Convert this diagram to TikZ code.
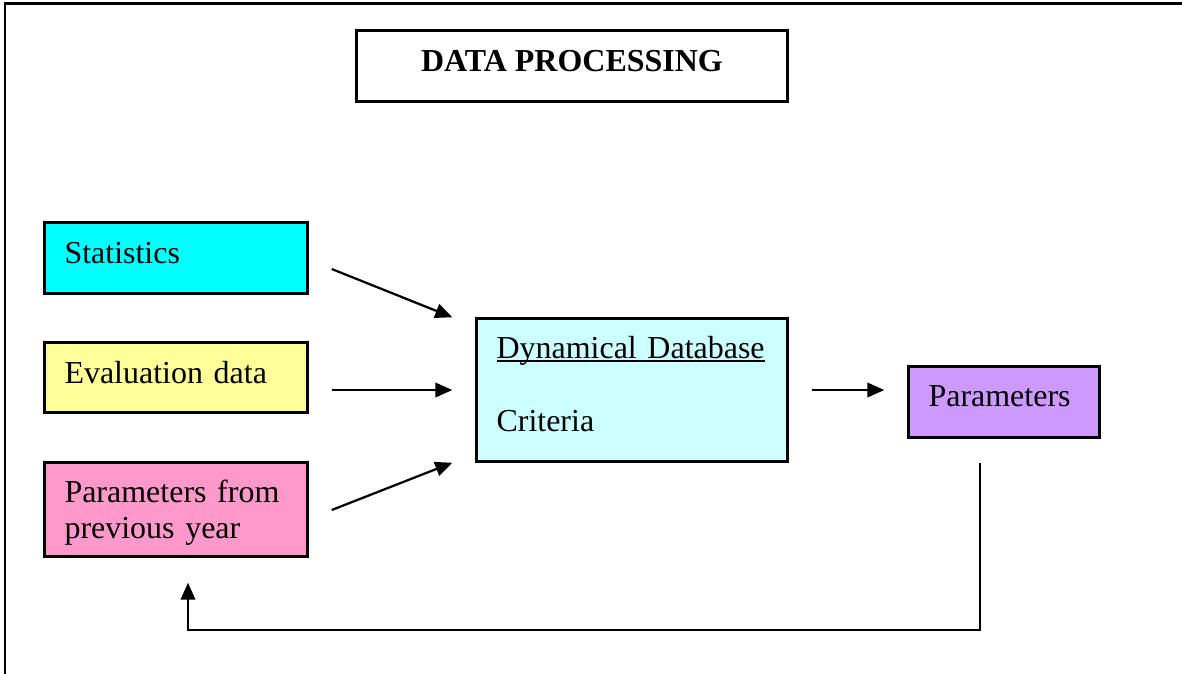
\documentclass[tikz,border=0pt]{standalone}
\usepackage{fontspec}
\setmainfont{Liberation Serif}
\usetikzlibrary{arrows.meta,calc}
\definecolor{cStat}{HTML}{00FFFF}
\definecolor{cEval}{HTML}{FFFF99}
\definecolor{cPrev}{HTML}{FF99CC}
\definecolor{cDB}{HTML}{CCFFFF}
\definecolor{cPar}{HTML}{CC99FF}
\newcommand{\ulthick}[1]{\setbox0\hbox{#1}\leavevmode\rlap{\rule[-0.12em]{\wd0}{0.06em}}\box0}
\tikzset{
  boxnode/.style={draw=black, line width=0.05cm, rectangle, inner xsep=0.4cm, inner ysep=0pt,
    align=left, font=\fontsize{18.2pt}{21pt}\selectfont},
  arr/.style={line width=0.045cm, -{Triangle[length=0.34cm,width=0.29cm]}},
}
\begin{document}
\begin{tikzpicture}[x=0.02cm,y=-0.02cm]
\useasboundingbox (0,0) rectangle (1182,673);
% outer frame
\draw[line width=0.06cm] (5,680) -- (5,3) -- (1190,3);
% title
\node[boxnode, align=center, inner xsep=0pt, minimum width=8.62cm, minimum height=1.42cm,
  text depth=0.19cm, font=\fontsize{18.2pt}{21pt}\selectfont\bfseries] (title) at (572,66) {DATA PROCESSING};
% inputs
\node[boxnode, fill=cStat, minimum width=5.26cm, minimum height=1.42cm, text width=4.46cm,
  text depth=0.22cm] (stat) at (176,258) {Statistics};
\node[boxnode, fill=cEval, minimum width=5.26cm, minimum height=1.40cm, text width=4.46cm,
  text depth=0.22cm] (eval) at (176,377.5) {Evaluation data};
\node[boxnode, fill=cPrev, minimum width=5.26cm, minimum height=1.88cm, text width=4.46cm,
  text depth=0.75cm] (prev) at (176,509.5) {Parameters from\\previous year};
% database
\node[boxnode, fill=cDB, minimum width=6.22cm, minimum height=2.86cm, text width=5.42cm,
  text depth=1.706cm] (db) at (632,390) {\ulthick{Dynamical Database}\\[20.8pt]Criteria};
% parameters
\node[boxnode, fill=cPar, minimum width=3.82cm, minimum height=1.42cm, text width=3.02cm,
  text depth=0.22cm] (par) at (1004,402) {Parameters};
% arrows
\draw[arr] ($(stat.east)+(23,11)$) -- ($(db.north west)+(-23,0)$);
\draw[arr] ($(eval.east |- db.west)+(23,0)$) -- ($(db.west)+(-23,0)$);
\draw[arr] ($(prev.east)+(23,0.5)$) -- ($(db.south west)+(-23,0)$);
\draw[arr] ($(db.east)+(23,0)$) -- ($(par.west |- db.east)+(-23,0)$);
% feedback
\coordinate (fbturn) at (188,630);
\draw[arr] ($(par.south)+(-24,24)$) |- (fbturn) -- ($(prev.south)+(12,25)$);
\end{tikzpicture}
\end{document}
